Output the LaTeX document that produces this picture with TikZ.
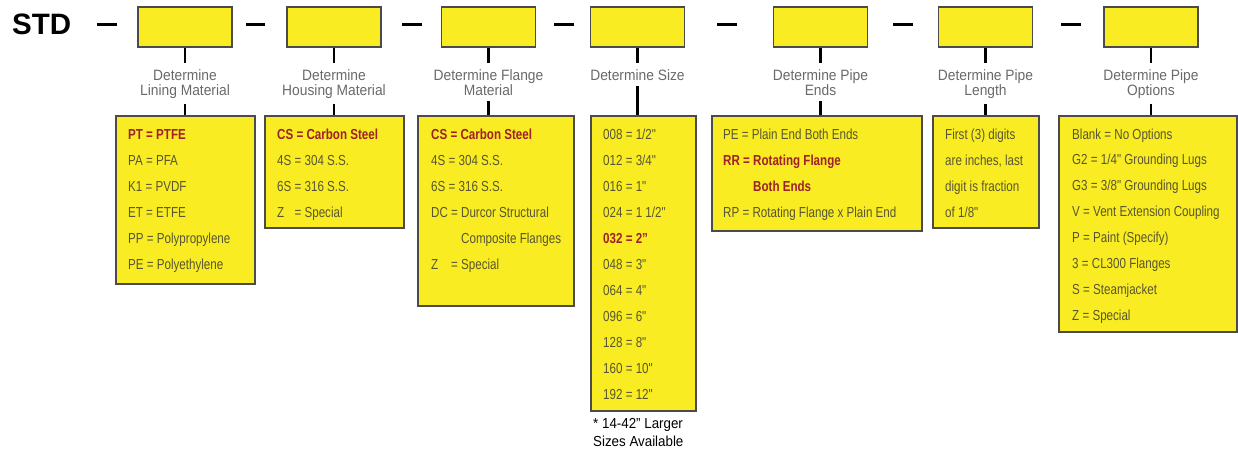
\documentclass[tikz,border=0pt]{standalone}
\usepackage{fontspec}
\setmainfont{Liberation Sans}
\newfontfamily\condfont[FakeStretch=0.8]{Liberation Sans}
\newfontfamily\labfont[FakeStretch=0.92]{Liberation Sans}
\definecolor{boxyellow}{RGB}{249,236,35}
\definecolor{boxedge}{RGB}{75,75,75}
\definecolor{hired}{RGB}{158,34,40}
\definecolor{listtext}{RGB}{88,86,48}
\definecolor{labgray}{RGB}{105,105,105}
\newcommand\redtxt[1]{{\bfseries\color{hired}#1}}
\tikzset{
  topbox/.style={draw=boxedge, fill=boxyellow, line width=1.2pt, minimum width=94pt, minimum height=40pt, inner sep=0pt},
  listbox/.style={draw=boxedge, fill=boxyellow, line width=1.2pt, inner sep=0pt},
  conn/.style={draw=black, line width=2.6pt},
  dashln/.style={draw=black, line width=2.2pt},
  lab/.style={anchor=north, inner xsep=1pt, inner ysep=6pt, align=center, text=labgray, font=\labfont\fontsize{15}{15}\selectfont},
  row/.style={anchor=base west, inner sep=0pt, text=listtext, font=\condfont\fontsize{14.5}{16}\selectfont},
}
\begin{document}
\begin{tikzpicture}[x=1pt,y=-1pt]
\useasboundingbox (0,0) rectangle (1238,452);
% title
\node[anchor=base west, inner sep=0pt, font=\bfseries\fontsize{29.5}{30}\selectfont] (std) at (12,35) {STD};
% dashes
\foreach \a/\b [count=\i] in {97/117,246/265,402/422,554/574,717/737,893/913,1061/1081}{
  \coordinate (da\i) at (\a,24.5);
  \coordinate (db\i) at (\b,24.5);
  \draw[dashln] (da\i) -- (db\i);
}
% top boxes
\foreach \x [count=\i] in {185,334,488.5,637.5,820.5,985.5,1151}{
  \node[topbox] (t\i) at (\x,27) {};
}
% labels
\node[lab] (l1) at (185,63) {Determine\\Lining Material};
\node[lab] (l2) at (334,63) {Determine\\Housing Material};
\node[lab] (l3) at (488.5,63) {Determine Flange\\Material};
\node[lab] (l4) at (637.5,63) {Determine Size};
\node[lab] (l5) at (820.5,63) {Determine Pipe\\Ends};
\node[lab] (l6) at (985.5,63) {Determine Pipe\\Length};
\node[lab] (l7) at (1151,63) {Determine Pipe\\Options};
% list boxes
\node[listbox, minimum width=139pt, minimum height=168pt] (b1) at (185.5,200) {};
\node[listbox, minimum width=139pt, minimum height=112pt] (b2) at (334.5,172) {};
\node[listbox, minimum width=156pt, minimum height=190pt] (b3) at (496,211) {};
\node[listbox, minimum width=105pt, minimum height=295pt] (b4) at (643.5,263.5) {};
\node[listbox, minimum width=210pt, minimum height=115pt] (b5) at (817,173.5) {};
\node[listbox, minimum width=106pt, minimum height=112pt] (b6) at (986,172) {};
\node[listbox, minimum width=178pt, minimum height=216pt] (b7) at (1148,224) {};
% connectors
\foreach \i in {1,...,7}{
  \draw[conn] (t\i.south) -- (l\i.north);
  \draw[conn] (l\i.south) -- (l\i.south |- b\i.north);
}
% list contents
\foreach \txt [count=\i] in {\redtxt{PT = PTFE}, PA = PFA, K1 = PVDF, ET = ETFE, PP = Polypropylene, PE = Polyethylene}
  \node[row] (ra\i) at (128,{139+26*(\i-1)}) {\txt};
\foreach \txt [count=\i] in {\redtxt{CS = Carbon Steel}, 4S = 304 S.S., 6S = 316 S.S., {\rlap{Z}\hphantom{4S} = Special}}
  \node[row] (rb\i) at (277,{139+26*(\i-1)}) {\txt};
\foreach \txt [count=\i] in {\redtxt{CS = Carbon Steel}, 4S = 304 S.S., 6S = 316 S.S., DC = Durcor Structural, {\hphantom{DC = }Composite Flanges}, {\rlap{Z}\hphantom{DC} = Special}}
  \node[row] (rc\i) at (431,{139+26*(\i-1)}) {\txt};
\foreach \txt [count=\i] in {008 = 1/2", 012 = 3/4", 016 = 1", 024 = 1 1/2", \redtxt{032 = 2”}, 048 = 3", 064 = 4", 096 = 6", 128 = 8", 160 = 10", 192 = 12"}
  \node[row] (rd\i) at (603,{139+26*(\i-1)}) {\txt};
\foreach \txt [count=\i] in {PE = Plain End Both Ends, \redtxt{RR = Rotating Flange}, \redtxt{\hphantom{RR = }Both Ends}, RP = Rotating Flange x Plain End}
  \node[row] (re\i) at (723,{139+26*(\i-1)}) {\txt};
\foreach \txt [count=\i] in {First (3) digits, {are inches, last}, digit is fraction, of 1/8"}
  \node[row] (rf\i) at (945,{139+26*(\i-1)}) {\txt};
\foreach \txt [count=\i] in {Blank = No Options, G2 = 1/4" Grounding Lugs, G3 = 3/8" Grounding Lugs, V = Vent Extension Coupling, P = Paint (Specify), 3 = CL300 Flanges, S = Steamjacket, Z = Special}
  \node[row] (rg\i) at (1072,{139+25.9*(\i-1)}) {\txt};
% footnote
\node[anchor=north west, inner sep=0pt, align=left, font=\labfont\fontsize{14.5}{18}\selectfont] (fn) at (593,418.6) {* 14-42” Larger\\Sizes Available};
\end{tikzpicture}
\end{document}
